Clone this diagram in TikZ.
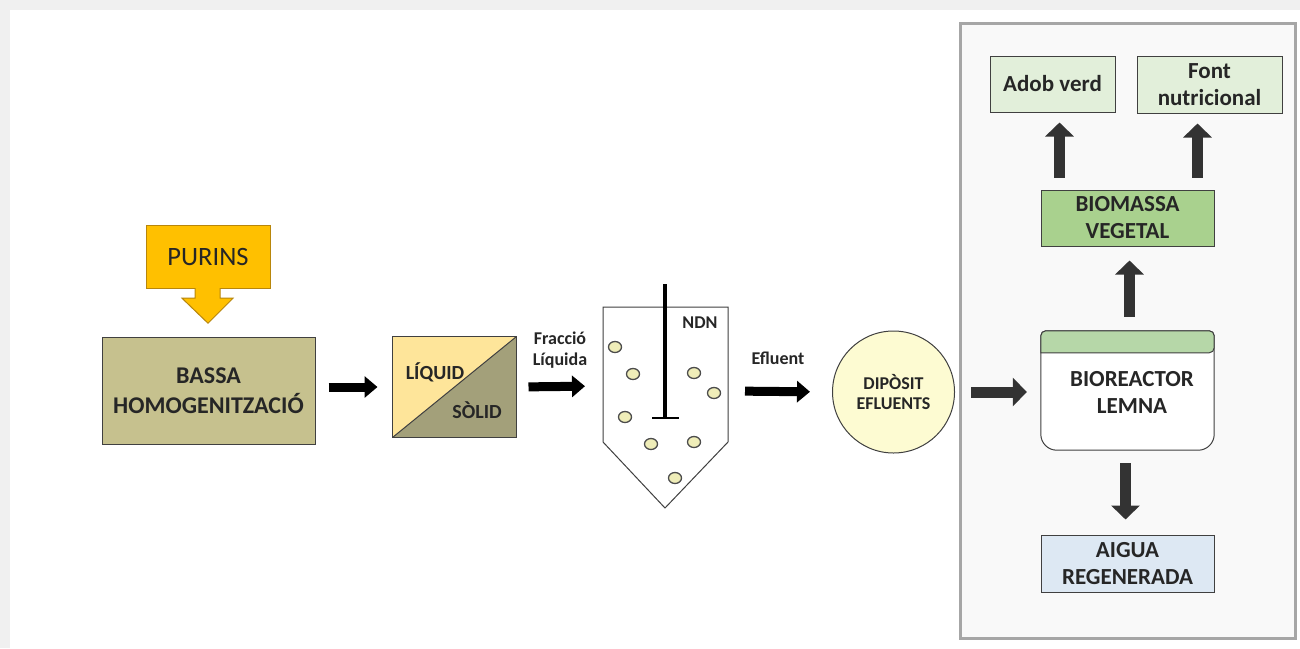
\documentclass[tikz,border=0pt]{standalone}
\usepackage{fontspec}
\setmainfont{Carlito}
\usetikzlibrary{arrows.meta}
\definecolor{txtgray}{HTML}{262626}
\definecolor{purinsfill}{HTML}{FFC000}
\definecolor{purinsline}{HTML}{B8860B}
\definecolor{bassafill}{HTML}{C6C18E}
\definecolor{liqfill}{HTML}{FEE59A}
\definecolor{solfill}{HTML}{A3A07A}
\definecolor{bubfill}{HTML}{EFEDB8}
\definecolor{dipfill}{HTML}{FDFBD2}
\definecolor{panelfill}{HTML}{F9F9F9}
\definecolor{panelline}{HTML}{A6A6A6}
\definecolor{stripfill}{HTML}{B6D7A8}
\definecolor{biofill}{HTML}{A9D18E}
\definecolor{adobfill}{HTML}{E2EFDA}
\definecolor{aiguafill}{HTML}{DDE8F3}
\definecolor{darkarrow}{HTML}{333333}
\begin{document}
\begin{tikzpicture}[x=1pt, y=-1pt,
      every node/.style = {text=txtgray, align=center, inner sep=0pt},
      box/.style = {draw=darkgray, line width=1pt, font=\bfseries\fontsize{23}{27}\selectfont},
      blackarrow/.style = {line width=9pt, -{Triangle[length=13pt, width=21pt]}},
      greyarrow/.style = {draw=darkarrow, line width=11pt, -{Triangle[length=14pt, width=28pt]}, darkarrow},
      small/.style = {font=\bfseries\fontsize{18}{20.5}\selectfont}]
    \useasboundingbox (0,0) rectangle (1300,648);
    \fill[black!6] (0,0) rectangle (1300,648);
    \fill[white] (10,10) rectangle (1300,648);
    % panel on the right
    \draw[panelline, fill=panelfill, line width=3pt] (960,23) rectangle (1295,638);

    % purins and homogenization pond
    \node[draw=purinsline, fill=purinsfill, minimum width=124, minimum height=63,
      font=\fontsize{26.5}{30}\selectfont] (purins) at (208,256.5) {PURINS};
    \draw[purinsline, fill=purinsfill, line width=1pt] ([xshift=-13pt]purins.south) -- ++(0,10) -- ++(-13,0)
      -- ++(26,25) -- ++(25,-25) -- ++(-13,0) -- ++(0,-10);
    \node[box, font=\bfseries\fontsize{24}{30}\selectfont, fill=bassafill, minimum width=213, minimum height=107] (bassa) at (208.5,390.5) {BASSA\\HOMOGENITZACIÓ};

    % separator
    \node[draw=darkgray, line width=1pt, minimum width=123, minimum height=100] (sep) at (454.5,387) {};
    \fill[liqfill] (sep.south west) -- (sep.north west) -- (sep.north east) -- cycle;
    \fill[solfill] (sep.south west) -- (sep.south east) -- (sep.north east) -- cycle;
    \draw[darkgray, line width=1pt] (sep.south west) rectangle (sep.north east);
    \draw[darkgray, line width=1pt] (sep.south west) -- (sep.north east);
    \node[font=\bfseries\fontsize{20}{22}\selectfont] (liq) at (435,372) {LÍQUID};
    \node[font=\bfseries\fontsize{20}{22}\selectfont] (sol) at (477,410) {SÒLID};

    % settler
    \draw[darkgray, line width=1pt] (603,307) -- (603,442) -- (665,508) -- (728,442) -- (728,307) -- cycle;
    \draw[black, line width=3.5pt] (665,284) -- (665,418);
    \draw[black, line width=2.5pt] (652,418) -- (679,418);
    \foreach \bx/\by in {615/347, 633/374, 694/373, 714/393, 625/417, 651/444, 694/442, 675/478}
      \draw[black!70, fill=bubfill, line width=1.3pt] (\bx,\by) ellipse (6.5 and 5.5);
    \node[small] (ndn) at (700,323) {NDN};
    \coordinate (setl) at (603,386);
    \coordinate (setr) at (728,391);
    \node[small] (fraccio) at (560,350) {Fracció\\Líquida};
    \node[small] (efluent) at (778,358) {Efluent};

    \node[draw=darkgray, line width=1pt, circle, fill=dipfill, minimum size=122, small] (dip) at (893.5,392) {DIPÒSIT\\EFLUENTS};

    % lemna bioreactor and products
    \node[minimum width=173, minimum height=119] (bio) at (1127.5,390.5) {};
    \draw[darkgray, fill=white, line width=1pt] (bio.west) [rounded corners=16] -- (bio.south west) -- (bio.south east)
      -- (bio.east) [rounded corners=5] -- (bio.north east) -- (bio.north west) -- cycle;
    \draw[darkgray, fill=stripfill, line width=1pt] ([yshift=-22pt]bio.north west) [rounded corners=5] -- (bio.north west)
      -- (bio.north east) -- ([yshift=-22pt]bio.north east) [sharp corners] -- cycle;
    \node[font=\bfseries\fontsize{23}{27}\selectfont] (biotxt) at (1132,392) {BIOREACTOR\\LEMNA};
    \node[box, fill=biofill, minimum width=173, minimum height=56] (biomassa) at (1127.5,218) {BIOMASSA\\VEGETAL};
    \node[box, fill=aiguafill, minimum width=173, minimum height=57] (aigua) at (1127.5,563.5) {AIGUA\\REGENERADA};
    \node[box, fill=adobfill, minimum width=125, minimum height=56] (adob) at (1052.5,84) {Adob verd};
    \node[box, fill=adobfill, minimum width=145, minimum height=57] (font) at (1209.5,84.5) {Font\\nutricional};

    % connectors
    \draw[blackarrow, shorten <=13pt, shorten >=15pt] (bassa.east |- sep) -- (sep.west);
    \draw[blackarrow, shorten <=12pt, shorten >=18pt] (sep.east) -- (setl);
    \draw[blackarrow, shorten <=17pt, shorten >=22pt] (setr) -- (dip.west);
    \draw[greyarrow, shorten <=16pt, shorten >=14pt] (dip.east) -- (dip.east -| bio.west);
    \draw[greyarrow, shorten <=13pt, shorten >=15pt] ([xshift=-2pt]bio.south) -- ([xshift=-2pt]aigua.north);
    \draw[greyarrow, shorten <=14pt, shorten >=14pt] ([xshift=2pt]bio.north) -- ([xshift=2pt]biomassa.south);
    \coordinate (up1) at ([xshift=-68pt]biomassa.north);
    \coordinate (up2) at ([xshift=70pt]biomassa.north);
    \draw[greyarrow, shorten <=12pt, shorten >=10pt] (up1) -- (up1 |- adob.south);
    \draw[greyarrow, shorten <=12pt, shorten >=10pt] (up2) -- (up2 |- font.south);
\end{tikzpicture}
\end{document}
